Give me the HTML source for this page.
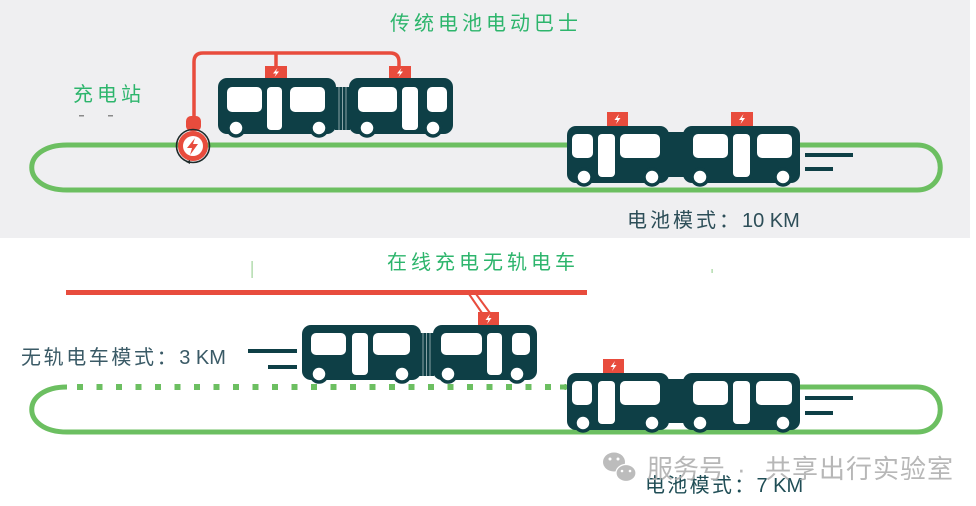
<!DOCTYPE html>
<html>
<head>
<meta charset="utf-8">
<style>
  html,body{margin:0;padding:0;background:#ffffff;}
  svg{display:block;}
  .cjk{font-family:"Liberation Sans","Noto Sans CJK SC",sans-serif;}
</style>
</head>
<body>
<svg width="976" height="506" viewBox="0 0 976 506" xmlns="http://www.w3.org/2000/svg">
  <!-- top gray background -->
  <rect x="0" y="0" width="970" height="238" fill="#efeff1"/>

  <!-- ============ TOP LOOP ============ -->
  <path d="M67,145 H917 C948,145 948,190 917,190 H67 C20,190 20,145 67,145 Z" fill="none" stroke="#6cbf61" stroke-width="5"/>

  <!-- titles -->
  <text x="390" y="30" class="cjk" font-size="20" fill="#2db56c" letter-spacing="4">传统电池电动巴士</text>
  <text x="73" y="101" class="cjk" font-size="20" fill="#2db56c" letter-spacing="4">充电站</text>
  <rect x="79" y="115" width="5" height="1.5" fill="#8a8a8a"/>
  <rect x="108" y="115" width="5" height="1.5" fill="#8a8a8a"/>

  <!-- charging cable -->
  <path d="M194,118 V62 Q194,53 203,53 H390 Q399,53 399,62 V67" fill="none" stroke="#e84c3d" stroke-width="3.5"/>
  <path d="M276,53 V67" fill="none" stroke="#e84c3d" stroke-width="3.5"/>
  <!-- plug -->
  <rect x="186" y="116" width="15" height="15" rx="5" fill="#e84c3d"/>
  <!-- charger circle -->
  <circle cx="193" cy="146" r="16.5" fill="none" stroke="#1e2b2b" stroke-width="1.6"/>
  <circle cx="193" cy="146" r="15" fill="#e84c3d"/>
  <circle cx="193" cy="146" r="10" fill="#ffffff"/>
  <polygon points="195,138 187,148 192,148 190,155 198,144 193,144" fill="#e84c3d"/>
  <path d="M186,162 l4,-2 l0,4 z" fill="#1e2b2b"/>

  <!-- TOP-LEFT BUS -->
  <rect x="265" y="66" width="22" height="13" fill="#e84c3d"/>
  <polygon points="277.5,68 273,73.5 276,73.5 274.5,77 279,71.5 276,71.5" fill="#fff"/>
  <rect x="389" y="66" width="22" height="13" fill="#e84c3d"/>
  <polygon points="401.5,68 397,73.5 400,73.5 398.5,77 403,71.5 400,71.5" fill="#fff"/>

  <rect x="218" y="78" width="118" height="56" rx="9" fill="#0e3f46"/>
  <rect x="335" y="87" width="15" height="43" fill="#0e3f46"/>
  <line x1="339" y1="87" x2="339" y2="130" stroke="#8aa3a6" stroke-width="1"/>
  <line x1="342.5" y1="87" x2="342.5" y2="130" stroke="#8aa3a6" stroke-width="1"/>
  <line x1="346" y1="87" x2="346" y2="130" stroke="#8aa3a6" stroke-width="1"/>
  <rect x="349" y="78" width="104" height="56" rx="9" fill="#0e3f46"/>
  <rect x="227" y="87" width="35" height="25" rx="5" fill="#fff"/>
  <rect x="267" y="87" width="15" height="43" rx="4" fill="#fff"/>
  <rect x="290" y="87" width="35" height="25" rx="5" fill="#fff"/>
  <rect x="358" y="87" width="39" height="25" rx="5" fill="#fff"/>
  <rect x="402" y="87" width="16" height="43" rx="4" fill="#fff"/>
  <rect x="427" y="87" width="20" height="25" rx="5" fill="#fff"/>
  <g fill="#fff" stroke="#0e3f46" stroke-width="3.5">
    <circle cx="236" cy="128" r="8"/>
    <circle cx="319" cy="128" r="8"/>
    <circle cx="367" cy="128" r="8"/>
    <circle cx="433" cy="128" r="8"/>
  </g>

  <!-- TOP-RIGHT BUS -->
  <rect x="607" y="112" width="21" height="14" fill="#e84c3d"/>
  <polygon points="619,114 614.5,120 617.5,120 616,124 620.5,118 617.5,118" fill="#fff"/>
  <rect x="731" y="112" width="22" height="14" fill="#e84c3d"/>
  <polygon points="743.5,114 739,120 742,120 740.5,124 745,118 742,118" fill="#fff"/>
  <rect x="567" y="126" width="102" height="57" rx="9" fill="#0e3f46"/>
  <rect x="667" y="132" width="18" height="45" fill="#0e3f46"/>
  <rect x="683" y="126" width="117" height="57" rx="9" fill="#0e3f46"/>
  <rect x="572" y="134" width="21" height="24" rx="5" fill="#fff"/>
  <rect x="598" y="134" width="17" height="43" rx="4" fill="#fff"/>
  <rect x="620" y="134" width="40" height="24" rx="5" fill="#fff"/>
  <rect x="693" y="134" width="35" height="24" rx="5" fill="#fff"/>
  <rect x="733" y="134" width="17" height="43" rx="4" fill="#fff"/>
  <rect x="757" y="134" width="35" height="24" rx="5" fill="#fff"/>
  <g fill="#fff" stroke="#0e3f46" stroke-width="3.5">
    <circle cx="584" cy="177" r="8"/>
    <circle cx="652" cy="177" r="8"/>
    <circle cx="700" cy="177" r="8"/>
    <circle cx="783" cy="177" r="8"/>
  </g>
  <rect x="805" y="153" width="48" height="4" fill="#0e3f46"/>
  <rect x="805" y="167" width="28" height="4" fill="#0e3f46"/>

  <text x="627" y="227" class="cjk" font-size="20" fill="#2d4e58"><tspan letter-spacing="3">电池模式：</tspan><tspan font-family="Liberation Sans, sans-serif">10 KM</tspan></text>

  <!-- ============ BOTTOM SECTION ============ -->
  <text x="387" y="269" class="cjk" font-size="20" fill="#2db56c" letter-spacing="4">在线充电无轨电车</text>
  <rect x="251.5" y="261" width="1.2" height="17" fill="#9fd39a"/>
  <rect x="711.5" y="269" width="1.2" height="4" fill="#9fd39a"/>

  <!-- overhead wire -->
  <rect x="66" y="290" width="521" height="5" fill="#e84c3d"/>

  <!-- bottom loop -->
  <path d="M560,387 H917 C948,387 948,432 917,432 H67 C20,432 20,387 67,387" fill="none" stroke="#6cbf61" stroke-width="5"/>
  <line x1="77" y1="387" x2="566" y2="387" stroke="#6cbf61" stroke-width="6" stroke-dasharray="6 13.5"/>

  <text x="21" y="364" class="cjk" font-size="20" fill="#3a5a66"><tspan letter-spacing="2.6">无轨电车模式：</tspan><tspan font-family="Liberation Sans, sans-serif">3 KM</tspan></text>

  <!-- speed lines left -->
  <rect x="248" y="349" width="49" height="4" fill="#0e3f46"/>
  <rect x="268" y="365" width="29" height="4" fill="#0e3f46"/>

  <!-- pantograph -->
  <line x1="469" y1="294" x2="482" y2="313" stroke="#e84c3d" stroke-width="2"/>
  <line x1="476" y1="294" x2="490" y2="313" stroke="#e84c3d" stroke-width="2"/>

  <!-- BOTTOM-LEFT BUS -->
  <rect x="478" y="312" width="21" height="14" fill="#e84c3d"/>
  <polygon points="490,314 485.5,320 488.5,320 487,324 491.5,318 488.5,318" fill="#fff"/>
  <rect x="302" y="325" width="119" height="55" rx="9" fill="#0e3f46"/>
  <rect x="419" y="333" width="15" height="43" fill="#0e3f46"/>
  <line x1="423" y1="333" x2="423" y2="376" stroke="#8aa3a6" stroke-width="1"/>
  <line x1="426.5" y1="333" x2="426.5" y2="376" stroke="#8aa3a6" stroke-width="1"/>
  <line x1="430" y1="333" x2="430" y2="376" stroke="#8aa3a6" stroke-width="1"/>
  <rect x="433" y="325" width="104" height="55" rx="9" fill="#0e3f46"/>
  <rect x="311" y="333" width="35" height="22" rx="5" fill="#fff"/>
  <rect x="352" y="333" width="16" height="42" rx="4" fill="#fff"/>
  <rect x="373" y="333" width="37" height="22" rx="5" fill="#fff"/>
  <rect x="441" y="333" width="41" height="22" rx="5" fill="#fff"/>
  <rect x="487" y="333" width="15" height="42" rx="4" fill="#fff"/>
  <rect x="512" y="333" width="18" height="22" rx="5" fill="#fff"/>
  <g fill="#fff" stroke="#0e3f46" stroke-width="3.5">
    <circle cx="319" cy="374" r="8"/>
    <circle cx="402" cy="374" r="8"/>
    <circle cx="448" cy="374" r="8"/>
    <circle cx="517" cy="374" r="8"/>
  </g>

  <!-- BOTTOM-RIGHT BUS -->
  <rect x="603" y="359" width="21" height="14" fill="#e84c3d"/>
  <polygon points="615,361 610.5,367 613.5,367 612,371 616.5,365 613.5,365" fill="#fff"/>
  <rect x="567" y="373" width="102" height="57" rx="9" fill="#0e3f46"/>
  <rect x="667" y="379" width="18" height="44" fill="#0e3f46"/>
  <rect x="683" y="373" width="117" height="57" rx="9" fill="#0e3f46"/>
  <rect x="572" y="381" width="20" height="24" rx="5" fill="#fff"/>
  <rect x="598" y="381" width="17" height="43" rx="4" fill="#fff"/>
  <rect x="620" y="381" width="40" height="24" rx="5" fill="#fff"/>
  <rect x="693" y="381" width="35" height="24" rx="5" fill="#fff"/>
  <rect x="733" y="381" width="17" height="43" rx="4" fill="#fff"/>
  <rect x="756" y="381" width="36" height="24" rx="5" fill="#fff"/>
  <g fill="#fff" stroke="#0e3f46" stroke-width="3.5">
    <circle cx="583" cy="423" r="8"/>
    <circle cx="652" cy="423" r="8"/>
    <circle cx="700" cy="423" r="8"/>
    <circle cx="783" cy="423" r="8"/>
  </g>
  <rect x="805" y="396" width="48" height="4" fill="#0e3f46"/>
  <rect x="805" y="411" width="28" height="4" fill="#0e3f46"/>

  <text x="645" y="492" class="cjk" font-size="20" fill="#1f4d55"><tspan letter-spacing="2.3">电池模式：</tspan><tspan font-family="Liberation Sans, sans-serif">7 KM</tspan></text>

  <!-- watermark -->
  <g fill="#b5b5b5" opacity="0.9">
    <ellipse cx="614" cy="462" rx="11" ry="9.5"/>
    <ellipse cx="626" cy="473" rx="10" ry="8.5"/>
  </g>
  <ellipse cx="626" cy="473" rx="10" ry="8.5" fill="none" stroke="#ffffff" stroke-width="1.2"/>
  <g fill="#ffffff">
    <circle cx="610" cy="459" r="1.5"/>
    <circle cx="618" cy="459" r="1.5"/>
    <circle cx="622" cy="471" r="1.3"/>
    <circle cx="630" cy="471" r="1.3"/>
  </g>
  <text y="478" class="cjk" font-size="26" fill="#b0b0b0" opacity="0.9"><tspan x="647">服务号</tspan><tspan x="737">·</tspan><tspan x="765" letter-spacing="1">共享出行实验室</tspan></text>
</svg>
</body>
</html>
